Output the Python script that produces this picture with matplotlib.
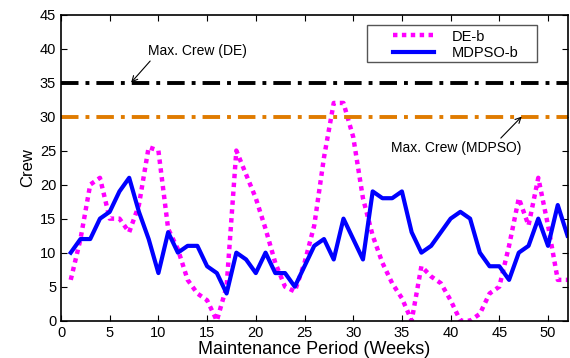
import matplotlib
matplotlib.use('Agg')
import matplotlib.pyplot as plt
from matplotlib.patches import Rectangle
import numpy as np

plt.rcParams['font.family'] = ['Liberation Sans', 'DejaVu Sans']

weeks = np.arange(1, 53)
de_b = [6, 12, 20, 21, 15, 15, 13, 17, 25.5, 25, 13.5, 10.5, 6, 4,
        3, 0, 5, 25, 21.5, 18, 13.5, 8.5, 5, 4.3, 8.5, 14, 24, 32,
        32, 27, 18, 12.5, 8.5, 5.5, 3.3, 0, 8, 6.5, 5.5, 3, 0, 0,
        1, 4, 5, 11, 18, 14, 21, 14, 6, 6]
mdpso_b = [10, 12, 12, 15, 16, 19, 21, 16, 12, 7, 13, 10, 11, 11,
           8, 7, 4, 10, 9, 7, 10, 7, 7, 5, 8, 11, 12, 9,
           15, 12, 9, 19, 18, 18, 19, 13, 10, 11, 13, 15, 16, 15,
           10, 8, 8, 6, 10, 11, 15, 11, 17, 12.5]
max_crew_de = 35
max_crew_mdpso = 30

fig = plt.figure(figsize=(5.7, 3.58), dpi=100)
ax = fig.add_axes([61/570, 1 - 320.7/358, (567.5 - 61)/570, (320.7 - 14.5)/358])

ax.plot(weeks, de_b, color='#ff00ff', lw=3.2, linestyle=(0, (1, 1)), label='DE-b')
ax.plot(weeks, mdpso_b, color='#0000ff', lw=3, label='MDPSO-b')
ax.axhline(max_crew_de, color='black', lw=2.8, linestyle=(0, (4.5, 1.8, 1, 1.8)))
ax.axhline(max_crew_mdpso, color='#e07b00', lw=2.8, linestyle=(0, (4.5, 1.8, 1, 1.8)))

ax.set_xlim(0, 52)
ax.set_ylim(0, 45)
ax.set_xticks(range(0, 51, 5))
ax.set_yticks(range(0, 46, 5))
ax.tick_params(direction='in', top=True, right=True, labelsize=10.5, length=4, width=0.8)
for s in ax.spines.values():
    s.set_linewidth(1.2)

ax.set_xlabel('Maintenance Period (Weeks)', fontsize=13, labelpad=1)
ax.set_ylabel('Crew', fontsize=12, labelpad=3)

ax.annotate('Max. Crew (DE)', xy=(7.2, 35), xytext=(8.9, 39.6), fontsize=10,
            ha='left', va='center',
            arrowprops=dict(arrowstyle='->', color='black', lw=0.8, shrinkA=0, shrinkB=0,
                            relpos=(0.05, 0)))
ax.annotate('Max. Crew (MDPSO)', xy=(47.3, 30), xytext=(33.9, 25.4), fontsize=10,
            ha='left', va='center',
            arrowprops=dict(arrowstyle='->', color='black', lw=0.8, shrinkA=0, shrinkB=0,
                            relpos=(0.82, 1.0)))

# MATLAB-like legend: wide box with the entries sitting to the right
ax.add_patch(Rectangle((0.6036, 0.845), 0.3356, 0.121, transform=ax.transAxes,
                       facecolor='white', edgecolor='#555555', lw=1.0, zorder=4))
leg = ax.legend(loc='upper left', bbox_to_anchor=(0.6555, 0.951), fontsize=10.5,
                frameon=False, handlelength=2.8, handletextpad=1.2,
                borderpad=0, borderaxespad=0, labelspacing=0.2)
leg.set_zorder(5)

fig.savefig('out.png', dpi=100)
